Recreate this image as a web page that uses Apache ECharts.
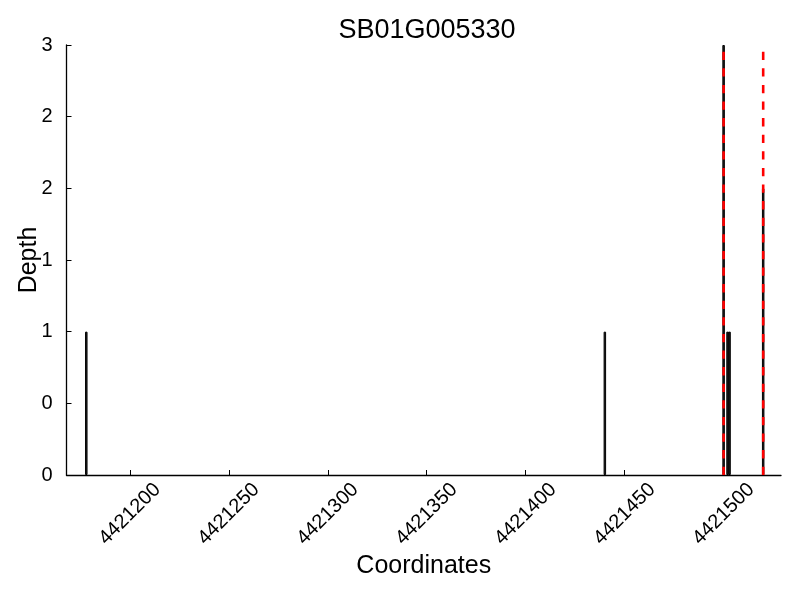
<!DOCTYPE html>
<html>
<head>
<meta charset="utf-8">
<script src="https://cdn.jsdelivr.net/npm/echarts@6/dist/echarts.min.js"></script>
<style>html,body{margin:0;padding:0;background:#fff}#c{width:800px;height:600px}</style>
</head>
<body>
<div id="c"></div>
<script>
const titleText = "SB01G005330";
const xName = "Coordinates";
const yName = "Depth";
const positions = [4421178, 4421440, 4421500, 4421502, 4421503, 4421520];
const depths = [1, 1, 3, 1, 1, 2];
const markerPositions = [4421500, 4421520];
const markerTop = 3;
const xTicks = [4421200, 4421250, 4421300, 4421350, 4421400, 4421450, 4421500];
const xMin = 4421168, xMax = 4421529;
const yMin = 0, yMax = 3, yStep = 0.5;

const FONT = "Liberation Sans, Arial, Helvetica, sans-serif";
const chart = echarts.init(document.getElementById('c'), null, {renderer: 'canvas'});

const series = [{
  type: 'bar',
  data: positions.map((p, i) => [p, depths[i]]),
  barWidth: 2.5,
  itemStyle: {color: '#222', borderColor: '#000', borderWidth: 1},
  animation: false,
  z: 2
}];
markerPositions.forEach(p => {
  series.push({
    type: 'line',
    data: [[p, 0], [p, markerTop]],
    symbol: 'none',
    lineStyle: {color: '#ff0000', width: 2.6, type: [8.3, 8.3]},
    animation: false,
    z: 5
  });
});

chart.setOption({
  animation: false,
  backgroundColor: '#fff',
  title: {
    text: titleText,
    left: 422, top: 12, textAlign: 'center',
    textStyle: {fontFamily: FONT, fontSize: 27, fontWeight: 'normal', color: '#000'}
  },
  grid: {left: 66.5, right: 19, top: 45, bottom: 125, containLabel: false},
  xAxis: {
    type: 'value', min: xMin, max: xMax,
    name: xName, nameLocation: 'middle', nameGap: 79, nameMoveOverlap: false,
    nameTextStyle: {fontFamily: FONT, fontSize: 25, color: '#000', verticalAlign: 'top'},
    axisLine: {show: true, onZero: false, lineStyle: {color: '#000', width: 1.3}},
    axisTick: {show: true, inside: true, length: 5, customValues: xTicks, lineStyle: {color: '#000', width: 1}},
    axisLabel: {
      customValues: xTicks, rotate: 45, align: 'center', verticalAlign: 'middle', margin: 39,
      formatter: v => String(v),
      fontFamily: FONT, fontSize: 20, color: '#000'
    },
    splitLine: {show: false}
  },
  yAxis: {
    type: 'value', min: yMin, max: yMax, interval: yStep,
    name: yName, nameLocation: 'middle', nameGap: 25, nameMoveOverlap: false,
    nameTextStyle: {fontFamily: FONT, fontSize: 25, color: '#000'},
    axisLine: {show: true, onZero: false, lineStyle: {color: '#000', width: 1.3}},
    axisTick: {show: true, inside: true, length: 5, lineStyle: {color: '#000', width: 1}},
    axisLabel: {
      formatter: v => String(Math.floor(v)), margin: 14,
      fontFamily: FONT, fontSize: 20, color: '#000'
    },
    splitLine: {show: false}
  },
  series: series
});
</script>
</body>
</html>
